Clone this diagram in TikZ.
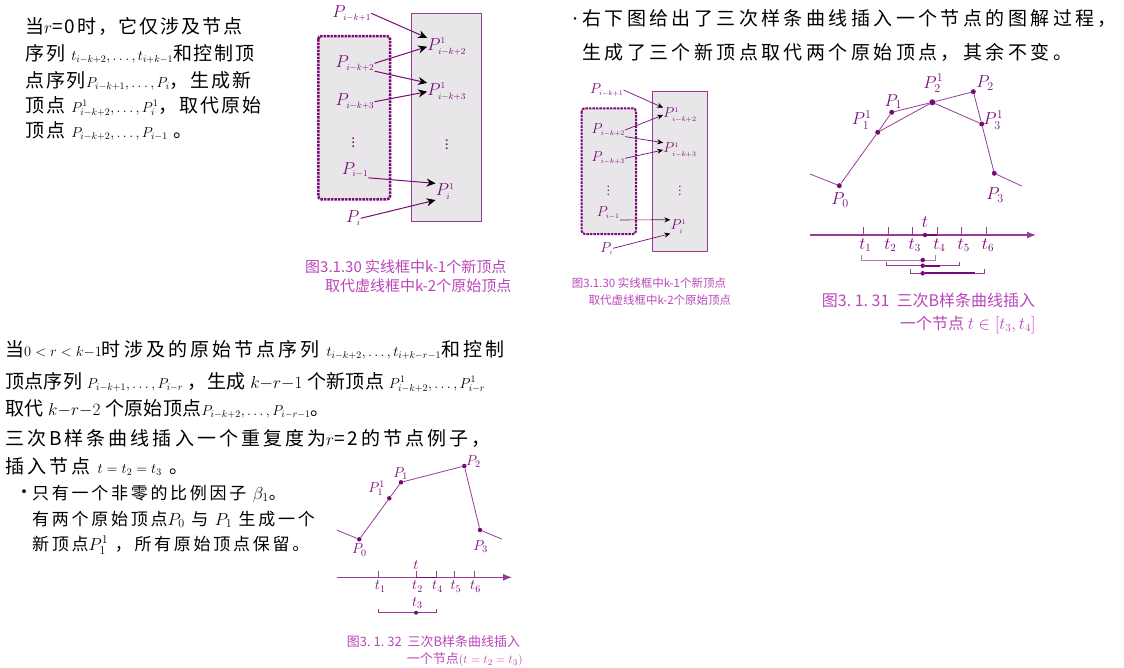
\documentclass[tikz,border=0pt]{standalone}
\usepackage{fontspec}
\setmainfont{Noto Sans CJK SC}
\newfontfamily\cjkA[LetterSpace=10]{Noto Sans CJK SC}
\newfontfamily\cjkB[LetterSpace=18]{Noto Sans CJK SC}
\newfontfamily\cjkC[LetterSpace=16]{Noto Sans CJK SC}
\newfontfamily\cjkD[LetterSpace=2]{Noto Sans CJK SC}
\usetikzlibrary{arrows.meta,positioning,calc}
\definecolor{mPurple}{RGB}{120,10,120}
\definecolor{mLine}{RGB}{150,60,150}
\definecolor{mCap}{RGB}{185,70,185}
\definecolor{mBox}{RGB}{232,230,232}
\newcommand{\smath}[1]{{\fontsize{14}{16}\selectfont$#1$}}
\newcommand{\mmath}[1]{{\fontsize{17}{19}\selectfont$#1$}}
\newcommand{\sx}[1]{{\scriptscriptstyle #1}}

\begin{document}
\begin{tikzpicture}[x=1pt, y=-1pt,
    txt/.style={anchor=base west, inner sep=0, font=#1\fontsize{19}{23}\selectfont},
    txt/.default=\cjkC,
    txtS/.style={anchor=base west, inner sep=0, font=\cjkC\fontsize{17}{21}\selectfont},
    captxt/.style={anchor=base west, inner sep=0, text=mCap},
    lbl/.style={inner sep=0, text=mPurple, font=\fontsize{18}{20}\selectfont},
    lblS/.style={inner sep=0, text=mPurple, font=\fontsize{14}{16}\selectfont},
    lblC/.style={inner sep=0, text=mPurple, font=\fontsize{17}{19}\selectfont},
    lblB/.style={inner sep=0, text=mPurple, font=\fontsize{14}{16}\selectfont},
    arr/.style={draw=mPurple, line width=1, -{Stealth[color=black, fill=black, length=9pt, width=8pt]}},
    arrS/.style={draw=mPurple, line width=0.7, -{Stealth[color=black, fill=black, length=6pt, width=5pt]}},
    newbox/.style={draw=mLine, line width=1.3, fill=mBox},
    oldbox/.style={draw=mPurple, line width=2.5, densely dotted, rounded corners=3pt, fill=mBox},
    pdot/.style={circle, fill=mPurple, inner sep=0, minimum size=5pt},
    poly/.style={draw=mLine, line width=0.8},
    axisln/.style={draw=mLine, line width=1.2, -{Latex[length=9pt, width=7pt]}},
    tickln/.style={draw=mLine, line width=0.9},
    brk/.style={draw=mLine, line width=0.8}]
  \useasboundingbox (0,0) rectangle (1124,667);

  % text, top left
  \node[txt=\cjkA] (tl1) at (25,33) {当$r$=0时，它仅涉及节点};
  \node[txt=\cjkA] (tl2) at (25,60) {序列 \smath{t_{i-k+2},\dots,t_{i+k-1}}和控制顶};
  \node[txt=\cjkA] (tl3) at (25,87) {点序列\smath{P_{i-k+1},\dots,P_i}，生成新};
  \node[txt=\cjkA] (tl4) at (25,112) {顶点 \smath{P^1_{i-k+2},\dots,P^1_i}，取代原始};
  \node[txt=\cjkA] (tl5) at (25,137) {顶点 \smath{P_{i-k+2},\dots,P_{i-1}} 。};

  % big box figure
  \draw[oldbox] (318.3,36) rectangle (390,199.3);
  \draw[newbox] (411.7,13.3) rectangle (481.7,221.7);
  \node[lbl] (pA) at (351.7,13.3) {$P_{\sx{i-k+1}}$};
  \node[lbl] (pB) at (355,63.3) {$P_{\sx{i-k+2}}$};
  \node[lbl] (pC) at (355,101.7) {$P_{\sx{i-k+3}}$};
  \node[lblS] (pV) at (353.3,140) {$\vdots$};
  \node[lbl] (pD) at (355,170) {$P_{\sx{i-1}}$};
  \node[lbl] (pE) at (353.3,218.3) {$P_{\sx{i}}$};
  \node[lbl] (qA) at (446.7,46.7) {$P^{\sx{1}}_{\sx{i-k+2}}$};
  \node[lbl] (qB) at (446.7,91.7) {$P^{\sx{1}}_{\sx{i-k+3}}$};
  \node[lblS] (qV) at (446.7,141.7) {$\vdots$};
  \node[lbl] (qC) at (445,191.7) {$P^{\sx{1}}_{\sx{i}}$};
  \draw[arr] (pA.east) -- (qA.north west);
  \draw[arr] (pB.east) -- (qA.west);
  \draw[arr] (pB.south east) -- (qB.north west);
  \draw[arr] (pC.east) -- (qB.west);
  \draw[arr] (pD.south east) -- (qC.north west);
  \draw[arr] (pE.east) -- (qC.south west);
  \node[captxt, font=\fontsize{15}{17}\selectfont] (capA1) at (305,272) {图3.1.30 实线框中k-1个新顶点};
  \node[captxt, font=\fontsize{15}{17}\selectfont] (capA2) at (325,291) {取代虚线框中k-2个原始顶点};

  % text, top right
  \node[txt, font=\fontsize{12}{14}\selectfont] (tr0) at (569,23) {·};
  \node[txt=\cjkB] (tr1) at (582,25.5) {右下图给出了三次样条曲线插入一个节点的图解过程，};
  \node[txt=\cjkB] (tr2) at (582,59) {生成了三个新顶点取代两个原始顶点，其余不变。};

  % small box figure
  \draw[oldbox, line width=2] (581.7,108.3) rectangle (636,234);
  \draw[newbox, line width=1] (652.7,91.7) rectangle (707.3,251.7);
  \node[lblS] (rA) at (606.7,90) {$P_{\sx{i-k+1}}$};
  \node[lblS] (rB) at (608.3,130) {$P_{\sx{i-k+2}}$};
  \node[lblS] (rC) at (608.3,158.3) {$P_{\sx{i-k+3}}$};
  \node[lblS, font=\fontsize{11}{12}\selectfont] (rV) at (608.3,188.3) {$\vdots$};
  \node[lblS] (rD) at (608.3,213.3) {$P_{\sx{i-1}}$};
  \node[lblS] (rE) at (606.7,248.3) {$P_{\sx{i}}$};
  \node[lblS] (sA) at (680,115) {$P^{\sx{1}}_{\sx{i-k+2}}$};
  \node[lblS] (sB) at (680,150) {$P^{\sx{1}}_{\sx{i-k+3}}$};
  \node[lblS, font=\fontsize{11}{12}\selectfont] (sV) at (680,188.3) {$\vdots$};
  \node[lblS] (sC) at (678.3,226.7) {$P^{\sx{1}}_{\sx{i}}$};
  \draw[arrS] (rA.east) -- (sA.north west);
  \draw[arrS] (rB.east) -- (sA.west);
  \draw[arrS] (rB.south east) -- (sB.north west);
  \draw[arrS] (rC.east) -- (sB.west);
  \draw[arrS] (rD.south east) -- (sC.north west);
  \draw[arrS] (rE.east) -- (sC.south west);
  \node[captxt, font=\fontsize{11.5}{13}\selectfont] (capB1) at (571.7,287.7) {图3.1.30 实线框中k-1个新顶点};
  \node[captxt, font=\fontsize{11.5}{13}\selectfont] (capB2) at (588.3,304.4) {取代虚线框中k-2个原始顶点};

  % curve, one knot t in [t3,t4]
  \coordinate (cL) at (810,174);
  \coordinate (cR) at (1021.7,186);
  \node[pdot] (c0) at (839.3,185.7) {};
  \node[pdot] (c11) at (877.7,132.3) {};
  \node[pdot] (c1) at (891.7,112.3) {};
  \node[pdot, minimum size=6pt] (c21) at (932.3,102.3) {};
  \node[pdot] (c2) at (973.3,91.7) {};
  \node[pdot] (c31) at (981.7,124) {};
  \node[pdot] (c3) at (994.3,173.3) {};
  \draw[poly] (cL) -- (c0) -- (c11) -- (c1) -- (c21) -- (c2) -- (c31) -- (c3) -- (cR);
  \draw[poly] (c11) -- (c21) -- (c31);
  \node[lblC] (l0) at (840,200) {$P_0$};
  \node[lblC] (l11) at (861.7,120) {$P^1_1$};
  \node[lblC] (l1) at (893.3,101.7) {$P_1$};
  \node[lblC] (l21) at (933.3,83.3) {$P^1_2$};
  \node[lblC] (l2) at (985,83.3) {$P_2$};
  \node[lblC] (l31) at (993.3,120) {$P^1_3$};
  \node[lblC] (l3) at (995,195) {$P_3$};
  \coordinate (aL) at (810,235);
  \coordinate (aR) at (1036,235);
  \draw[axisln] (aL) -- (aR);
  \foreach \x/\n in {863.3/1,888.3/2,912.7/3,937.3/4,961.7/5,986/6}{
    \draw[tickln] (\x,227) -- (\x,235);
    \node[lblC, font=\fontsize{16}{18}\selectfont] (ta\n) at (\x+2,245) {$t_\n$};}
  \node[lblC, font=\fontsize{16}{18}\selectfont] (tA) at (925,222.3) {$t$};
  \node[pdot, minimum size=4.5pt] (tAd) at (925,235) {};
  \draw[mPurple, line width=2] (tAd) -- (937.3,235);
  \draw[brk, draw=mLine!70] (861.7,255) -- (861.7,260) -- (935.7,260) -- (935.7,255);
  \draw[brk] (886,261.7) -- (886,265.7) -- (959.3,265.7) -- (959.3,261.7);
  \draw[brk] (910,269) -- (910,273.3) -- (984.3,273.3) -- (984.3,269);
  \node[pdot, minimum size=4.5pt] (k1) at (922.7,260) {};
  \node[pdot, minimum size=4.5pt] (k2) at (922.7,265.7) {};
  \node[pdot, minimum size=4.5pt] (k3) at (922.7,273.3) {};
  \draw[mPurple, line width=1.8] (k2) -- (940,265.7);
  \draw[mPurple, line width=1.8] (k3) -- (975,273.3);
  \node[captxt, font=\fontsize{16}{18}\selectfont] (capC1) at (821.7,306) {图3.~1.~31~~三次B样条曲线插入};
  \node[captxt, font=\fontsize{16}{18}\selectfont] (capC2) at (900,329.4) {一个节点 $t\in[t_3,t_4]$};

  % text, middle left
  \node[txt] (ml1) at (5,356) {当\smath{0<r<k{-}1}时涉及的原始节点序列 \smath{t_{i-k+2},\dots,t_{i+k-r-1}}和控制};
  \node[txt=\cjkD] (ml2) at (5,388) {顶点序列 \smath{P_{i-k+1},\dots,P_{i-r}} ，生成 \mmath{k{-}r{-}1} 个新顶点 \smath{P^1_{i-k+2},\dots,P^1_{i-r}}};
  \node[txt=\cjkD] (ml3) at (5,415) {取代 \mmath{k{-}r{-}2} 个原始顶点\smath{P_{i-k+2},\dots,P_{i-r-1}}。};
  \node[txt] (ml4) at (5,445) {三次B样条曲线插入一个重复度为$r$=2的节点例子，};
  \node[txt] (ml5) at (5,473) {插入节点 \smath{t=t_2=t_3} 。};

  % text, bottom left
  \node[txtS, font=\fontsize{18}{20}\selectfont] (bul) at (15,498) {•};
  \node[txtS] (bl1) at (32,499) {只有一个非零的比例因子 $\beta_1$。};
  \node[txtS] (bl2) at (32,525) {有两个原始顶点$P_0$ 与 $P_1$ 生成一个};
  \node[txtS] (bl3) at (32,550) {新顶点$P^1_1$ ，所有原始顶点保留。};

  % curve, double knot t = t2 = t3
  \coordinate (bL) at (336.7,530);
  \coordinate (bR) at (501.7,539);
  \node[pdot, minimum size=4.5pt] (b0) at (359.3,539.3) {};
  \node[pdot, minimum size=4.5pt] (b11) at (389.3,498.3) {};
  \node[pdot, minimum size=4.5pt] (b1) at (401,482.3) {};
  \node[pdot, minimum size=4.5pt] (b2) at (464.3,466) {};
  \node[pdot, minimum size=4.5pt] (b3) at (480,530) {};
  \draw[poly] (bL) -- (b0) -- (b11) -- (b1) -- (b2) -- (b3) -- (bR);
  \node[lblB] (m0) at (359.3,550) {$P_0$};
  \node[lblB] (m11) at (376.7,488.3) {$P^1_1$};
  \node[lblB] (m1) at (400.7,473.3) {$P_1$};
  \node[lblB] (m2) at (473.3,461.7) {$P_2$};
  \node[lblB] (m3) at (480.7,546.7) {$P_3$};
  \coordinate (dL) at (336.7,577.3);
  \coordinate (dR) at (512,577.3);
  \draw[axisln, line width=1] (dL) -- (dR);
  \foreach \x/\n in {378.7/1,416/2,436/4,454.3/5,474/6}{
    \draw[tickln] (\x,570.7) -- (\x,577.3);
    \node[lblB] (tb\n) at (\x+1.5,586.5) {$t_\n$};}
  \draw[mPurple, line width=1.6] (416,577.3) -- (436,577.3);
  \node[lblB] (tB) at (416,565) {$t$};
  \node[lblB] (tb3) at (417.3,603.3) {$t_3$};
  \draw[brk] (378.7,609.3) -- (378.7,612.7) -- (436,612.7) -- (436,609.3);
  \node[pdot, minimum size=4pt] (kb) at (416,612.7) {};
  \node[captxt, font=\fontsize{13}{15}\selectfont] (capD1) at (346.7,646.6) {图3.~1.~32~~三次B样条曲线插入};
  \node[captxt, font=\fontsize{13}{15}\selectfont] (capD2) at (406.7,663.2) {一个节点$(t=t_2=t_3)$};
\end{tikzpicture}
\end{document}
